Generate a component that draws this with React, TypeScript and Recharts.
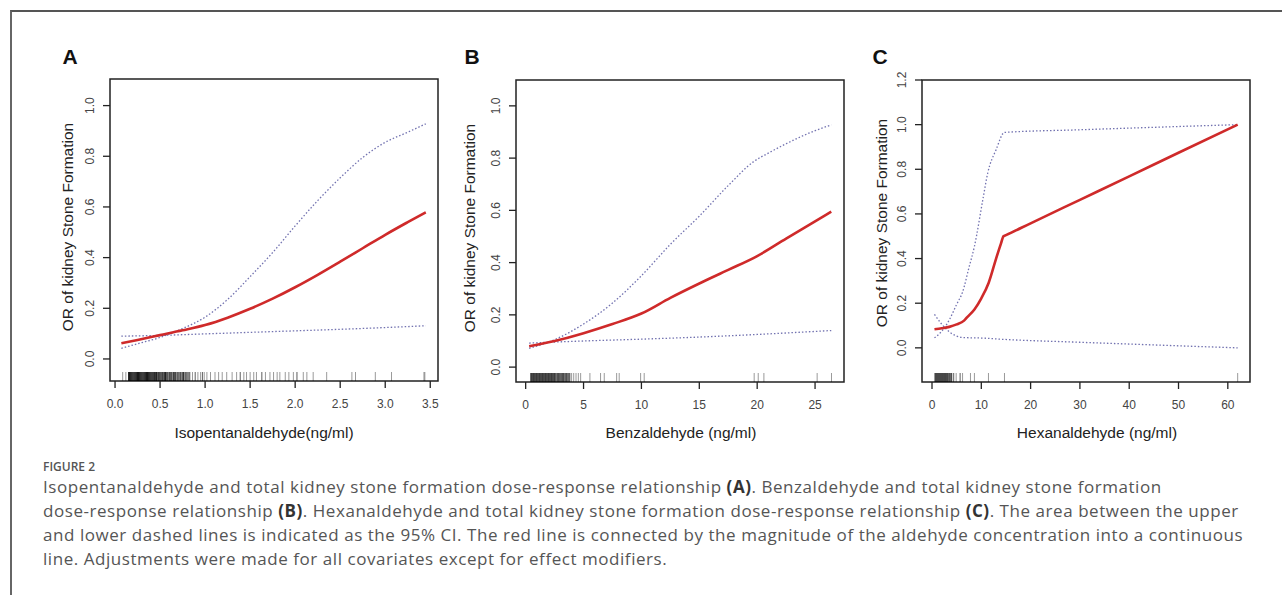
import { ComposedChart, Line, ReferenceArea, Scatter, XAxis, YAxis } from 'recharts';

const FONT = '"Liberation Sans", Arial, Helvetica, sans-serif';
const RED = '#cf2a2a';
const CI = '#7272b0';

// tick labels
const xTicksA = [0, 0.5, 1, 1.5, 2, 2.5, 3, 3.5];
const xTicksB = [0, 5, 10, 15, 20, 25];
const xTicksC = [0, 10, 20, 30, 40, 50, 60];
const yTicksAB = [0, 0.2, 0.4, 0.6, 0.8, 1.0];
const yTicksC = [0, 0.2, 0.4, 0.6, 0.8, 1.0, 1.2];

// A: Isopentanaldehyde  [concentration, OR]
const isoFit = [[0.07, 0.062], [0.25, 0.075], [0.5, 0.094], [0.75, 0.113], [1.0, 0.134], [1.25, 0.163], [1.5, 0.198], [1.75, 0.238], [2.0, 0.283], [2.25, 0.332], [2.5, 0.384], [2.75, 0.437], [3.0, 0.49], [3.25, 0.54], [3.45, 0.579]];
const isoUpper = [[0.07, 0.042], [0.25, 0.06], [0.5, 0.085], [0.75, 0.12], [1.0, 0.165], [1.25, 0.235], [1.5, 0.325], [1.75, 0.42], [2.0, 0.525], [2.25, 0.625], [2.5, 0.715], [2.75, 0.795], [3.0, 0.855], [3.25, 0.895], [3.45, 0.928]];
const isoLower = [[0.07, 0.09], [0.5, 0.093], [1.0, 0.099], [1.5, 0.105], [2.0, 0.111], [2.5, 0.117], [3.0, 0.124], [3.45, 0.131]];
// rug: [concentration, number of subjects]
const isoRug = [
  [0.085, 1], [0.12, 1], [0.15, 4], [0.16, 5], [0.17, 5], [0.18, 5], [0.19, 5], [0.2, 5], [0.21, 5], [0.22, 5], [0.23, 5], [0.24, 5],
  [0.25, 5], [0.26, 5], [0.27, 5], [0.28, 5], [0.29, 5], [0.3, 5], [0.31, 5], [0.32, 5], [0.33, 5], [0.34, 5], [0.35, 5], [0.36, 5],
  [0.37, 5], [0.38, 5], [0.39, 5], [0.4, 5], [0.41, 4], [0.42, 5], [0.43, 4], [0.44, 5], [0.45, 3], [0.46, 4], [0.47, 2], [0.48, 4],
  [0.49, 3], [0.5, 4], [0.51, 2], [0.52, 3], [0.53, 4], [0.54, 2], [0.55, 3], [0.56, 4], [0.57, 2], [0.58, 3], [0.59, 1], [0.6, 3],
  [0.61, 4], [0.62, 2], [0.63, 3], [0.64, 1], [0.65, 3], [0.66, 2], [0.67, 3], [0.68, 1], [0.69, 2], [0.7, 3], [0.71, 1], [0.72, 2],
  [0.73, 3], [0.74, 1], [0.75, 2], [0.76, 3], [0.77, 1], [0.78, 2], [0.79, 2], [0.8, 1], [0.81, 2], [0.82, 1], [0.83, 2], [0.86, 1],
  [0.89, 2], [0.92, 1], [0.95, 1], [0.97, 2], [0.99, 1], [1.02, 1], [1.06, 1], [1.11, 1], [1.15, 1], [1.19, 1], [1.24, 1], [1.3, 1],
  [1.35, 1], [1.39, 2], [1.43, 1], [1.46, 1], [1.5, 1], [1.54, 1], [1.57, 1], [1.63, 2], [1.67, 1], [1.72, 1], [1.76, 1], [1.8, 1],
  [1.83, 1], [1.89, 1], [1.93, 1], [1.98, 1], [2.02, 2], [2.09, 1], [2.13, 1], [2.2, 1], [2.35, 1], [2.63, 1], [2.67, 1], [2.89, 1],
  [3.07, 1], [3.43, 1], [3.44, 1],
];

// B: Benzaldehyde
const benzFit = [[0.3, 0.08], [2.5, 0.1], [5, 0.13], [7.5, 0.165], [10, 0.205], [12.5, 0.265], [15, 0.32], [17.5, 0.372], [20, 0.425], [22.5, 0.492], [25, 0.558], [26.4, 0.595]];
const benzUpper = [[0.3, 0.072], [2.5, 0.105], [5, 0.165], [7.5, 0.245], [10, 0.35], [12.5, 0.47], [15, 0.578], [17.5, 0.695], [19.7, 0.787], [21, 0.82], [22.5, 0.855], [25, 0.905], [26.4, 0.927]];
const benzLower = [[0.3, 0.092], [5, 0.1], [10, 0.107], [15, 0.115], [20, 0.125], [26.4, 0.14]];
const benzRug = [
  [0.45, 5], [0.53, 5], [0.62, 5], [0.7, 5], [0.79, 5], [0.88, 5], [0.96, 5], [1.05, 5], [1.14, 5], [1.22, 5], [1.31, 5], [1.4, 5],
  [1.48, 5], [1.57, 5], [1.66, 5], [1.74, 5], [1.83, 5], [1.92, 5], [2.0, 5], [2.09, 5], [2.18, 5], [2.26, 5], [2.35, 5], [2.44, 5],
  [2.52, 5], [2.61, 3], [2.7, 2], [2.78, 4], [2.87, 5], [2.96, 3], [3.04, 2], [3.13, 4], [3.22, 5], [3.3, 3], [3.39, 2], [3.48, 4],
  [3.56, 3], [3.65, 2], [3.74, 3], [3.82, 2], [3.97, 1], [4.15, 1], [4.35, 1], [4.55, 1], [4.75, 1], [5.55, 1], [6.47, 1], [6.79, 1],
  [7.86, 1], [8.08, 1], [9.93, 1], [10.24, 1], [19.74, 1], [20.09, 1], [20.58, 1], [25.18, 1], [26.42, 1],
];

// C: Hexanaldehyde
const hexFit = [[0.5, 0.083], [2, 0.088], [3.5, 0.094], [5, 0.105], [6.5, 0.122], [7.2, 0.139], [8.6, 0.172], [10, 0.222], [11.5, 0.292], [13, 0.4], [14, 0.468], [14.5, 0.5], [15, 0.505], [20, 0.558], [30, 0.663], [40, 0.768], [50, 0.874], [62, 1.0]];
const hexUpper = [[0.5, 0.045], [2, 0.075], [3.5, 0.125], [5, 0.195], [6.2, 0.25], [7.5, 0.36], [8.6, 0.454], [10.3, 0.663], [11.3, 0.783], [13, 0.888], [14.7, 0.965], [30, 0.977], [45, 0.988], [62, 1.0]];
const hexLower = [[0.5, 0.15], [2, 0.105], [3.5, 0.072], [5, 0.053], [6.5, 0.046], [10, 0.044], [14.5, 0.038], [30, 0.025], [45, 0.013], [62, 0.0]];
const hexRug = [
  [0.62, 5], [0.82, 5], [1.02, 5], [1.22, 5], [1.42, 5], [1.62, 5], [1.82, 5], [2.02, 5], [2.22, 5], [2.42, 5], [2.62, 5], [2.82, 5],
  [3.02, 4], [3.22, 5], [3.42, 2], [3.62, 4], [3.82, 2], [4.0, 3], [4.4, 2], [4.9, 1], [5.7, 2], [6.2, 1], [7.8, 1], [8.6, 1],
  [11.45, 1], [14.7, 1], [62, 1],
];

const captionLines = [
  ['Isopentanaldehyde and total kidney stone formation dose-response relationship ', '(A)', '. Benzaldehyde and total kidney stone formation'],
  ['dose-response relationship ', '(B)', '. Hexanaldehyde and total kidney stone formation dose-response relationship ', '(C)', '. The area between the upper'],
  ['and lower dashed lines is indicated as the 95% CI. The red line is connected by the magnitude of the aldehyde concentration into a continuous'],
  ['line. Adjustments were made for all covariates except for effect modifiers.'],
];

const BOX_W = 328;
const BOX_H = 302;

type Pair = number[];

function RotTick(props: any) {
  const { x, y, payload } = props;
  return (
    <text x={x} y={y} transform={`rotate(-90 ${x} ${y})`} textAnchor="middle" dominantBaseline="central"
      fontSize={12} fill="#444" fontFamily={FONT}>
      {Number(payload.value).toFixed(1)}
    </text>
  );
}

function RugMark(props: any) {
  const { cx, cy, payload } = props;
  return <line x1={cx} x2={cx} y1={cy} y2={cy - 9} stroke="#000" strokeWidth={1} strokeOpacity={1 - Math.pow(0.6, payload.n)} />;
}

interface PanelProps {
  left: number;
  top: number;
  xDomain: [number, number];
  yDomain: [number, number];
  xTicks: number[];
  yTicks: number[];
  xDigits: number;
  fit: Pair[];
  upper: Pair[];
  lower: Pair[];
  rug: Pair[];
}

const pts = (arr: Pair[]) => arr.map(([x, y]) => ({ x, y }));

function Panel({ left, top, xDomain, yDomain, xTicks, yTicks, xDigits, fit, upper, lower, rug }: PanelProps) {
  const rugPts = rug.map(([x, n]) => ({ x, y: yDomain[0], n }));
  return (
    <div style={{ position: 'absolute', left: left - 60, top: top - 20 }}>
      <ComposedChart width={BOX_W + 80} height={BOX_H + 80} margin={{ top: 20, right: 20, bottom: 0, left: 0 }}>
        <XAxis type="number" dataKey="x" domain={xDomain} ticks={xTicks} interval={0} allowDataOverflow height={60}
          axisLine={false} tickSize={7} tickMargin={11} tickLine={{ stroke: '#222', strokeWidth: 1.3 }}
          tick={{ fontSize: 12, fill: '#444', fontFamily: FONT }} tickFormatter={(v: number) => v.toFixed(xDigits)} />
        <YAxis type="number" dataKey="y" domain={yDomain} ticks={yTicks} interval={0} allowDataOverflow width={60}
          axisLine={false} tickSize={7} tickMargin={13} tickLine={{ stroke: '#222', strokeWidth: 1.3 }}
          tick={(p: any) => <RotTick {...p} />} />
        <ReferenceArea x1={xDomain[0]} x2={xDomain[1]} y1={yDomain[0]} y2={yDomain[1]} fill="none" fillOpacity={0}
          stroke="#222" strokeWidth={1.5} ifOverflow="visible" />
        <Scatter data={rugPts} dataKey="y" shape={(p: any) => <RugMark {...p} />} isAnimationActive={false} />
        <Line data={pts(upper)} dataKey="y" type="monotone" stroke={CI} strokeWidth={1.3} strokeDasharray="1.5 2"
          dot={false} activeDot={false} isAnimationActive={false} />
        <Line data={pts(lower)} dataKey="y" type="monotone" stroke={CI} strokeWidth={1.3} strokeDasharray="1.5 2"
          dot={false} activeDot={false} isAnimationActive={false} />
        <Line data={pts(fit)} dataKey="y" type="monotone" stroke={RED} strokeWidth={2.6}
          dot={false} activeDot={false} isAnimationActive={false} />
      </ComposedChart>
    </div>
  );
}

const abs = (x: number, y: number, extra: any = {}) => ({
  position: 'absolute' as const,
  left: x,
  top: y,
  transform: 'translate(-50%, -50%)',
  whiteSpace: 'nowrap' as const,
  lineHeight: 1,
  ...extra,
});

export default function App() {
  const title = { fontFamily: FONT, fontSize: 15.5, color: '#222' };
  const letter = { fontFamily: FONT, fontSize: 21, fontWeight: 700, color: '#111' };
  return (
    <div style={{ position: 'absolute', left: 0, top: 0, width: 1282, height: 595, background: '#fff', overflow: 'hidden' }}>
      <div style={{ position: 'absolute', left: 10, top: 10, width: 1290, height: 600, borderTop: '2px solid #555', borderLeft: '2px solid #666' }} />

      <Panel left={110} top={79} xDomain={[-0.056, 3.586]} yDomain={[-0.087, 1.105]} xTicks={xTicksA} yTicks={yTicksAB}
        xDigits={1} fit={isoFit} upper={isoUpper} lower={isoLower} rug={isoRug} />
      <Panel left={516} top={80} xDomain={[-0.835, 27.5]} yDomain={[-0.057, 1.099]} xTicks={xTicksB} yTicks={yTicksAB}
        xDigits={0} fit={benzFit} upper={benzUpper} lower={benzLower} rug={benzRug} />
      <Panel left={922} top={80} xDomain={[-2.03, 64.5]} yDomain={[-0.153, 1.2]} xTicks={xTicksC} yTicks={yTicksC}
        xDigits={0} fit={hexFit} upper={hexUpper} lower={hexLower} rug={hexRug} />

      <div style={abs(70, 56, letter)}>A</div>
      <div style={abs(472, 56, letter)}>B</div>
      <div style={abs(880, 56, letter)}>C</div>

      <div style={abs(68, 227, { ...title, transform: 'translate(-50%, -50%) rotate(-90deg)' })}>OR of kidney Stone Formation</div>
      <div style={abs(470, 228, { ...title, transform: 'translate(-50%, -50%) rotate(-90deg)' })}>OR of kidney Stone Formation</div>
      <div style={abs(882, 223, { ...title, transform: 'translate(-50%, -50%) rotate(-90deg)' })}>OR of kidney Stone Formation</div>

      <div style={abs(264, 433, title)}>Isopentanaldehyde(ng/ml)</div>
      <div style={abs(681, 433, title)}>Benzaldehyde (ng/ml)</div>
      <div style={abs(1097, 433, title)}>Hexanaldehyde (ng/ml)</div>

      <div style={{ position: 'absolute', left: 43, top: 459, fontFamily: '"Open Sans", sans-serif', fontSize: 12, fontWeight: 600, color: '#555', lineHeight: '16px' }}>
        FIGURE 2
      </div>
      <div style={{ position: 'absolute', left: 43, top: 475, fontFamily: '"Open Sans", sans-serif', fontSize: 17, letterSpacing: 0.55, color: '#555', lineHeight: '24px', whiteSpace: 'nowrap' }}>
        {captionLines.map((parts, i) => (
          <div key={i}>
            {parts.map((t, j) => (j % 2 === 1 ? <b key={j} style={{ fontWeight: 700, color: '#333' }}>{t}</b> : <span key={j}>{t}</span>))}
          </div>
        ))}
      </div>
    </div>
  );
}
